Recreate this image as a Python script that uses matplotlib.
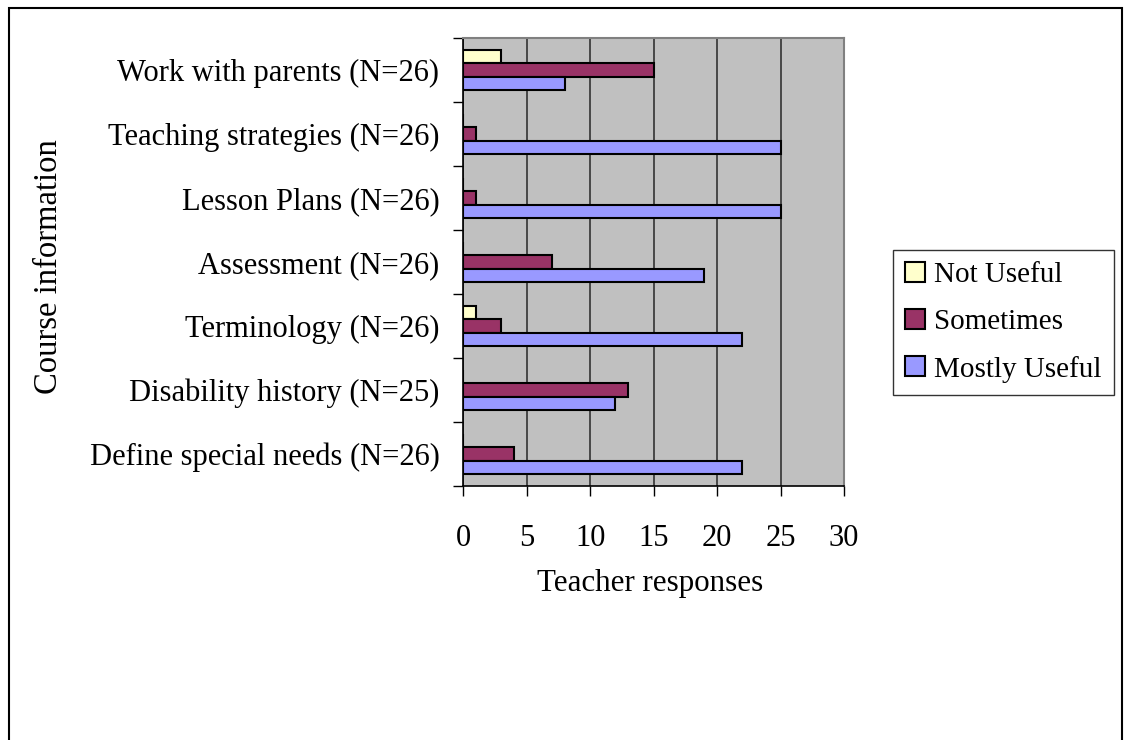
import matplotlib.pyplot as plt
import matplotlib.patches as mpatches
import numpy as np

plt.rcParams['font.family'] = ['Liberation Serif', 'DejaVu Serif']

# course topics, bottom to top
topics = ['Define special needs (N=26)', 'Disability history (N=25)', 'Terminology (N=26)',
          'Assessment (N=26)', 'Lesson Plans (N=26)', 'Teaching strategies (N=26)',
          'Work with parents (N=26)']
not_useful = [0, 0, 1, 0, 0, 0, 3]
sometimes = [4, 13, 3, 7, 1, 1, 15]
mostly_useful = [22, 12, 22, 19, 25, 25, 8]
x_ticks = [0, 5, 10, 15, 20, 25, 30]

fig = plt.figure(figsize=(11.25, 7.4), dpi=100)
ax = fig.add_axes([0.4116, 0.3432, 0.3387, 0.6054])

y = np.arange(len(topics))
h = 0.21
ax.barh(y + h, not_useful, height=h, color='#FFFFCC', edgecolor='black', linewidth=1.5,
        label='Not Useful', zorder=3)
ax.barh(y, sometimes, height=h, color='#993366', edgecolor='black', linewidth=1.5,
        label='Sometimes', zorder=3)
ax.barh(y - h, mostly_useful, height=h, color='#9999FF', edgecolor='black', linewidth=1.5,
        label='Mostly Useful', zorder=3)

ax.set_facecolor('#C0C0C0')
ax.set_xlim(0, 30)
ax.set_ylim(-0.5, len(topics) - 0.5)

ax.set_xticks(x_ticks)
ax.tick_params(axis='x', direction='out', length=7.2, width=1, pad=20, labelsize=22)
ax.xaxis.grid(True, color='#333333', linewidth=1.2, zorder=1)
ax.set_axisbelow(True)

# tick marks sit between categories, labels sit on the categories
ax.set_yticks(np.arange(len(topics) + 1) - 0.5)
ax.set_yticklabels([])
ax.set_yticks(y, minor=True)
ax.set_yticklabels(topics, minor=True)
ax.tick_params(axis='y', which='major', direction='out', length=7.2, width=1)
ax.tick_params(axis='y', which='minor', length=0, pad=17, labelsize=22)

for side in ['top', 'right']:
    ax.spines[side].set_color('#808080')
    ax.spines[side].set_linewidth(1.5)
for side in ['left', 'bottom']:
    ax.spines[side].set_color('black')
    ax.spines[side].set_linewidth(1.2)

fig.text(0.578, 0.212, 'Teacher responses', ha='center', va='center', fontsize=22.3)
fig.text(0.043, 0.64, 'Course information', ha='center', va='center', rotation=90,
         fontsize=23.5)

leg = ax.legend(loc='upper left', bbox_to_anchor=(893 / 1125, 1 - 250 / 740),
                bbox_transform=fig.transFigure, fontsize=21, frameon=True,
                fancybox=False, edgecolor='#333333', framealpha=1, handlelength=0.68,
                handleheight=0.68, handletextpad=0.3, labelspacing=0.7, borderpad=0.42,
                borderaxespad=0)
leg.get_frame().set_linewidth(1)
for patch in leg.get_patches():
    patch.set_linewidth(1.5)

# outer chart frame
fig.patches.append(mpatches.Rectangle((0.008, -0.05), 0.989, 1.039, transform=fig.transFigure,
                                      fill=False, edgecolor='black', linewidth=1.5))

fig.savefig('out.png', dpi=100)
